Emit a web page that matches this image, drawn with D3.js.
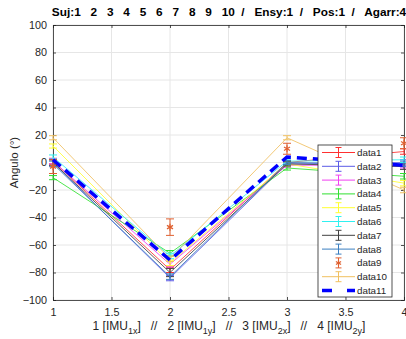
<!DOCTYPE html>
<html><head><meta charset="utf-8">
<script src="https://cdn.jsdelivr.net/npm/d3@7"></script>
<style>body{margin:0;background:#fff;} svg{display:block;font-family:"Liberation Sans",Arial,sans-serif;} text{white-space:pre;}</style>
</head><body>
<svg id="c" width="406" height="339"></svg>
<script>
const xs = [1, 2, 3, 4];
const seriesNames = ["data1","data2","data3","data4","data5","data6","data7","data8","data9","data10","data11"];
const colors = ["#ff3030","#5a5ae6","#f040f0","#30e030","#ffff30","#30f0f0","#404040","#3a7ec0","#e06030","#f0c060","#0000ff"];
const data1 = [1, -78, 0, 8];
const data2 = [0, -84, -1, 0];
const data3 = [1, -74, -2, -2];
const data4 = [-11, -66, -4, -10];
const data5 = [12, -73, -1, -15];
const data6 = [4, -68, 1, 2];
const data7 = [0, -80, -1, -3];
const data8 = [-1, -83, 0, -1];
const data9 = [-3, -47, 10, 14];
const data10 = [18, -70, 18, -20];
const data11 = [2, -71, 4, -2];
const err1 = [2, 2, 1.5, 2];
const err2 = [2, 2, 1.5, 2];
const err3 = [2, 2, 1.5, 2];
const err4 = [1.5, 2, 1.5, 2];
const err5 = [1.5, 2, 1.5, 2];
const err6 = [1.5, 2, 1.5, 2];
const err7 = [2, 3, 1.5, 2];
const err8 = [2, 2, 1.5, 2];
const err9 = [5, 6, 4, 4];
const err10 = [1.5, 2, 1.5, 2];
const xTicks = [1, 1.5, 2, 2.5, 3, 3.5, 4];
const yTicks = [-100, -80, -60, -40, -20, 0, 20, 40, 60, 80, 100];
const titleText = "Suj:1   2   3   4   5   6   7   8   9   10  /   Ensy:1  /   Pos:1  /   Agarr:4";

const vals = [data1,data2,data3,data4,data5,data6,data7,data8,data9,data10,data11];
const errs = [err1,err2,err3,err4,err5,err6,err7,err8,err9,err10,null];

const svg = d3.select("#c");
const L = 53, R = 404, T = 25, B = 300;
const x = d3.scaleLinear().domain([1,4]).range([L,R]);
const y = d3.scaleLinear().domain([-100,100]).range([B,T]);

// grid
const g = svg.append("g");
g.selectAll(".gx").data(xTicks).join("line")
  .attr("x1", d=>x(d)).attr("x2", d=>x(d)).attr("y1", T).attr("y2", B)
  .attr("stroke", "#e6e6e6").attr("stroke-width", 1);
g.selectAll(".gy").data(yTicks).join("line")
  .attr("x1", L).attr("x2", R).attr("y1", d=>y(d)).attr("y2", d=>y(d))
  .attr("stroke", "#e6e6e6").attr("stroke-width", 1);

// axes
const axCol = "#262626";
const xa = svg.append("g").attr("transform", `translate(0,${B})`)
  .call(d3.axisBottom(x).tickValues(xTicks).tickSize(-3).tickPadding(8).tickFormat(d3.format("")));
const xa2 = svg.append("g").attr("transform", `translate(0,${T})`)
  .call(d3.axisTop(x).tickValues(xTicks).tickSize(-3).tickFormat(""));
const ya = svg.append("g").attr("transform", `translate(${L},0)`)
  .call(d3.axisLeft(y).tickValues(yTicks).tickSize(-3).tickPadding(6));
const ya2 = svg.append("g").attr("transform", `translate(${R},0)`)
  .call(d3.axisRight(y).tickValues(yTicks).tickSize(-3).tickFormat(""));
[xa,xa2,ya,ya2].forEach(a=>{
  a.selectAll("path").attr("stroke", axCol).attr("stroke-width",0.8);
  a.selectAll("line").attr("stroke", axCol).attr("stroke-width",0.8);
  a.selectAll("text").attr("fill", axCol).attr("font-size", 10.8)
   .attr("font-family", '"Liberation Sans",Arial,sans-serif');
});

// series
const line = d3.line().x((d,i)=>x(xs[i])).y(d=>y(d));
function asterisk(sel, cx, cy, r, col){
  const p = sel.append("g").attr("transform", `translate(${cx},${cy})`);
  [0,60,120].forEach(a=>{
    const rad = a*Math.PI/180;
    p.append("line").attr("x1", -r*Math.sin(rad)).attr("y1", -r*Math.cos(rad))
      .attr("x2", r*Math.sin(rad)).attr("y2", r*Math.cos(rad))
      .attr("stroke", col).attr("stroke-width", 1.2);
  });
}
const plot = svg.append("g");
for (let s = 0; s < 10; s++) {
  const col = colors[s];
  if (s !== 8) {
    plot.append("path").datum(vals[s]).attr("d", line).attr("fill","none")
      .attr("stroke", col).attr("stroke-width", 1).attr("opacity", 0.85);
  }
  vals[s].forEach((v,i)=>{
    const e = errs[s][i], cx = x(xs[i]);
    const gg = plot.append("g").attr("stroke", col).attr("stroke-width", 1);
    gg.append("line").attr("x1",cx).attr("x2",cx).attr("y1",y(v-e)).attr("y2",y(v+e));
    gg.append("line").attr("x1",cx-4).attr("x2",cx+4).attr("y1",y(v-e)).attr("y2",y(v-e));
    gg.append("line").attr("x1",cx-4).attr("x2",cx+4).attr("y1",y(v+e)).attr("y2",y(v+e));
    if (s === 8) asterisk(plot, cx, y(v), 3.5, col);
  });
}
plot.append("path").datum(data11).attr("d", line).attr("fill","none")
  .attr("stroke", colors[10]).attr("stroke-width", 3.5).attr("stroke-dasharray","10,6");

// legend
const lg = svg.append("g");
const LX = 318, LY = 145, LW = 74, LH = 152;
lg.append("rect").attr("x",LX).attr("y",LY).attr("width",LW).attr("height",LH)
  .attr("fill","#fff").attr("stroke","#262626").attr("stroke-width",0.8);
const step = 13.8;
seriesNames.forEach((name,i)=>{
  const cy = LY + 7.5 + i*step;
  const col = colors[i];
  const x1 = LX+4, x2 = LX+37, xm = (x1+x2)/2;
  if (i < 10) {
    if (i !== 8) lg.append("line").attr("x1",x1).attr("x2",x2).attr("y1",cy).attr("y2",cy).attr("stroke",col).attr("stroke-width",1);
    lg.append("line").attr("x1",xm).attr("x2",xm).attr("y1",cy-5).attr("y2",cy+5).attr("stroke",col).attr("stroke-width",1);
    lg.append("line").attr("x1",xm-3).attr("x2",xm+3).attr("y1",cy-5).attr("y2",cy-5).attr("stroke",col).attr("stroke-width",1);
    lg.append("line").attr("x1",xm-3).attr("x2",xm+3).attr("y1",cy+5).attr("y2",cy+5).attr("stroke",col).attr("stroke-width",1);
    if (i === 8) asterisk(lg, xm, cy, 3, col);
  } else {
    lg.append("line").attr("x1",x1).attr("x2",x1+10).attr("y1",cy).attr("y2",cy).attr("stroke",col).attr("stroke-width",3.5);
    lg.append("line").attr("x1",x2-8).attr("x2",x2).attr("y1",cy).attr("y2",cy).attr("stroke",col).attr("stroke-width",3.5);
  }
  lg.append("text").attr("x", LX+39).attr("y", cy+3.5).attr("font-size", 9.8)
    .attr("fill","#262626").text(name);
});

// title
svg.append("text").attr("x", 229).attr("y", 16).attr("text-anchor","middle")
  .attr("font-size", 11.8).attr("font-weight","bold").attr("fill","#000")
  .attr("xml:space","preserve").text(titleText);

// y label
svg.append("text").attr("transform", `translate(18,${(T+B)/2}) rotate(-90)`)
  .attr("text-anchor","middle").attr("font-size", 11.5).attr("fill","#262626").text("Angulo (°)");

// x label with subscripts
const xl = svg.append("text").attr("x", 229).attr("y", 330).attr("text-anchor","middle")
  .attr("font-size", 12).attr("fill","#262626").attr("xml:space","preserve");
const parts = [["1 [IMU","1x","]   //   "],["2 [IMU","1y","]   //   "],["3 [IMU","2x","]   //   "],["4 [IMU","2y","]"]];
parts.forEach(p=>{
  xl.append("tspan").text(p[0]);
  xl.append("tspan").attr("dy", 4).attr("font-size", 9).text(p[1]);
  xl.append("tspan").attr("dy", -4).text(p[2]);
});
</script>
</body></html>
